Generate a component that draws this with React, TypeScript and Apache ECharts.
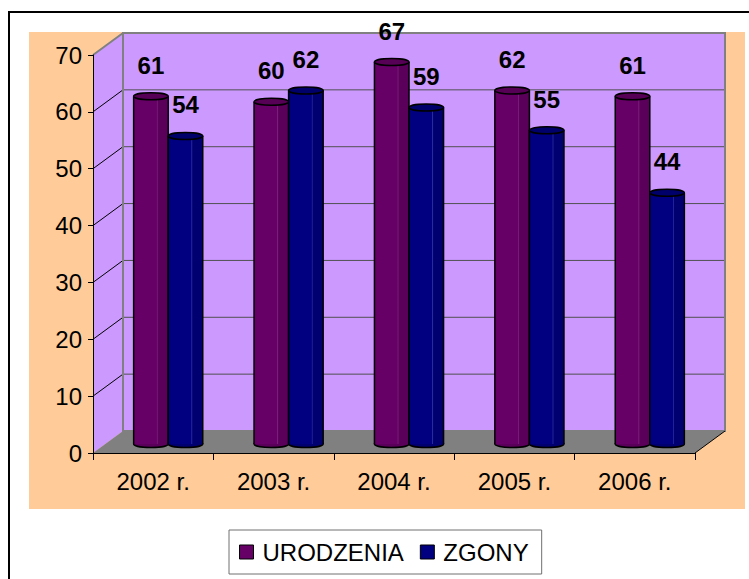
import React, { useEffect, useRef } from 'react';
import * as echarts from 'echarts';

const years = ['2002 r.', '2003 r.', '2004 r.', '2005 r.', '2006 r.'];
const urodzenia = [61, 60, 67, 62, 61];
const zgony = [54, 62, 59, 55, 44];
const seriesNames = ['URODZENIA', 'ZGONY'];

const FONT = 'Arial, "Liberation Sans", sans-serif';
const DEPTH_X = 30;
const DEPTH_Y = -22;

const palette = [
  { body: '#660066', light: '#7d1f7d', dark: '#5a005a', top: '#560056' },
  { body: '#000080', light: '#2a2aa0', dark: '#000070', top: '#00006a' },
];

function wallsRender(params: any, api: any) {
  const cs = params.coordSys;
  const x0 = cs.x, y0 = cs.y, w = cs.width, h = cs.height;
  const children: any[] = [];
  // back wall fill
  children.push({
    type: 'rect',
    shape: { x: x0 + DEPTH_X, y: y0 + DEPTH_Y, width: w, height: h },
    style: { fill: '#CC99FF' },
  });
  // side wall
  children.push({
    type: 'polygon',
    shape: { points: [[x0, y0], [x0 + DEPTH_X, y0 + DEPTH_Y], [x0 + DEPTH_X, y0 + h + DEPTH_Y], [x0, y0 + h]] },
    style: { fill: '#CC99FF' },
  });
  // floor
  children.push({
    type: 'polygon',
    shape: { points: [[x0, y0 + h], [x0 + DEPTH_X, y0 + h + DEPTH_Y], [x0 + w + DEPTH_X, y0 + h + DEPTH_Y], [x0 + w, y0 + h]] },
    style: { fill: '#808080' },
  });
  // grid lines
  for (let t = 10; t < 70; t += 10) {
    const y = api.coord([0, t])[1];
    children.push({
      type: 'line',
      shape: { x1: x0 + DEPTH_X, y1: y + DEPTH_Y, x2: x0 + w + DEPTH_X, y2: y + DEPTH_Y },
      style: { stroke: '#505050', lineWidth: 1 },
    });
    children.push({
      type: 'line',
      shape: { x1: x0, y1: y, x2: x0 + DEPTH_X, y2: y + DEPTH_Y },
      style: { stroke: '#000', lineWidth: 1 },
    });
  }
  // back wall border
  children.push({
    type: 'rect',
    shape: { x: x0 + DEPTH_X, y: y0 + DEPTH_Y, width: w, height: h },
    style: { fill: 'none', stroke: '#808080', lineWidth: 2 },
  });
  // side wall top edge
  children.push({
    type: 'line',
    shape: { x1: x0, y1: y0, x2: x0 + DEPTH_X, y2: y0 + DEPTH_Y },
    style: { stroke: '#808080', lineWidth: 2 },
  });
  // floor right edge
  children.push({
    type: 'line',
    shape: { x1: x0 + w, y1: y0 + h, x2: x0 + w + DEPTH_X, y2: y0 + h + DEPTH_Y },
    style: { stroke: '#000', lineWidth: 1 },
  });
  return { type: 'group', children };
}

function cylinderRender(side: number) {
  const col = palette[side];
  return (params: any, api: any) => {
    const cat = api.value(0);
    const v = api.value(1);
    const top = api.coord([cat, v]);
    const base = api.coord([cat, 0]);
    const band = api.size([1, 0])[0];
    const bw = band * 0.287;
    const mid = top[0] + DEPTH_X / 2;
    const left = side === 0 ? mid - bw : mid;
    const ty = top[1] - 10;
    const by = base[1] - 9;
    const rx = bw / 2;
    const ry = 3.5;
    const cx = left + rx;
    const grad = new echarts.graphic.LinearGradient(0, 0, 1, 0, [
      { offset: 0, color: col.body },
      { offset: 0.66, color: col.body },
      { offset: 0.68, color: col.light },
      { offset: 0.71, color: col.dark },
      { offset: 1, color: col.dark },
    ]);
    return {
      type: 'group',
      children: [
        { type: 'ellipse', shape: { cx, cy: by, rx, ry }, style: { fill: col.dark, stroke: '#000', lineWidth: 1.5 } },
        { type: 'rect', shape: { x: left, y: ty, width: bw, height: by - ty }, style: { fill: grad } },
        { type: 'line', shape: { x1: left, y1: ty, x2: left, y2: by }, style: { stroke: '#000', lineWidth: 1.5 } },
        { type: 'line', shape: { x1: left + bw, y1: ty, x2: left + bw, y2: by }, style: { stroke: '#000', lineWidth: 1.5 } },
        { type: 'ellipse', shape: { cx, cy: ty, rx, ry }, style: { fill: col.top, stroke: '#000', lineWidth: 1.5 } },
        {
          type: 'text',
          x: cx,
          y: ty - 31,
          style: {
            text: String(v),
            fill: '#000',
            fontSize: 24,
            fontWeight: 'bold',
            fontFamily: FONT,
            align: 'center',
            verticalAlign: 'middle',
          },
        },
      ],
    };
  };
}

export default function App() {
  const ref = useRef<HTMLDivElement>(null);
  useEffect(() => {
    document.body.style.margin = '0';
    document.body.style.overflow = 'hidden';
    const chart = echarts.init(ref.current!, null, { renderer: 'svg' });
    const option: any = {
      animation: false,
      backgroundColor: '#ffffff',
      textStyle: { fontFamily: FONT },
      graphic: [
        {
          type: 'rect',
          z: -100,
          shape: { x: 9, y: 12, width: 780, height: 620 },
          style: { fill: '#ffffff', stroke: '#000', lineWidth: 2 },
        },
        {
          type: 'rect',
          z: -99,
          shape: { x: 29, y: 32, width: 716, height: 477 },
          style: { fill: '#FFCC99' },
        },
      ],
      grid: { left: 93, top: 55, width: 602, height: 398, containLabel: false },
      xAxis: {
        type: 'category',
        data: years,
        z: 5,
        axisLine: { lineStyle: { color: '#000', width: 1 } },
        axisTick: { show: true, length: 7, lineStyle: { color: '#000' } },
        axisLabel: { color: '#000', fontSize: 24, fontFamily: FONT, margin: 16 },
        splitLine: { show: false },
      },
      yAxis: {
        type: 'value',
        min: 0,
        max: 70,
        interval: 10,
        z: 5,
        axisLine: { show: true, lineStyle: { color: '#000', width: 1 } },
        axisTick: { show: true, length: 5, lineStyle: { color: '#000' } },
        axisLabel: { color: '#000', fontSize: 24, fontFamily: FONT, margin: 11 },
        splitLine: { show: false },
      },
      legend: {
        data: seriesNames,
        left: 229,
        top: 530,
        orient: 'horizontal',
        padding: [10, 13, 10, 10],
        itemGap: 16,
        itemWidth: 14,
        itemHeight: 14,
        icon: 'rect',
        borderColor: '#707070',
        borderWidth: 1,
        backgroundColor: '#ffffff',
        itemStyle: { borderColor: '#000', borderWidth: 1 },
        textStyle: { color: '#000', fontSize: 24, fontFamily: FONT, padding: [0, 0, 0, 4] },
      },
      series: [
        {
          type: 'custom',
          name: 'walls',
          z: 1,
          silent: true,
          renderItem: wallsRender,
          data: [[0, 0]],
        },
        {
          type: 'custom',
          name: seriesNames[0],
          z: 3,
          itemStyle: { color: palette[0].body },
          renderItem: cylinderRender(0),
          data: urodzenia.map((v, i) => [i, v]),
        },
        {
          type: 'custom',
          name: seriesNames[1],
          z: 3,
          itemStyle: { color: palette[1].body },
          renderItem: cylinderRender(1),
          data: zgony.map((v, i) => [i, v]),
        },
      ],
    };
    chart.setOption(option);
    return () => chart.dispose();
  }, []);
  return <div ref={ref} style={{ width: 749, height: 579 }} />;
}
